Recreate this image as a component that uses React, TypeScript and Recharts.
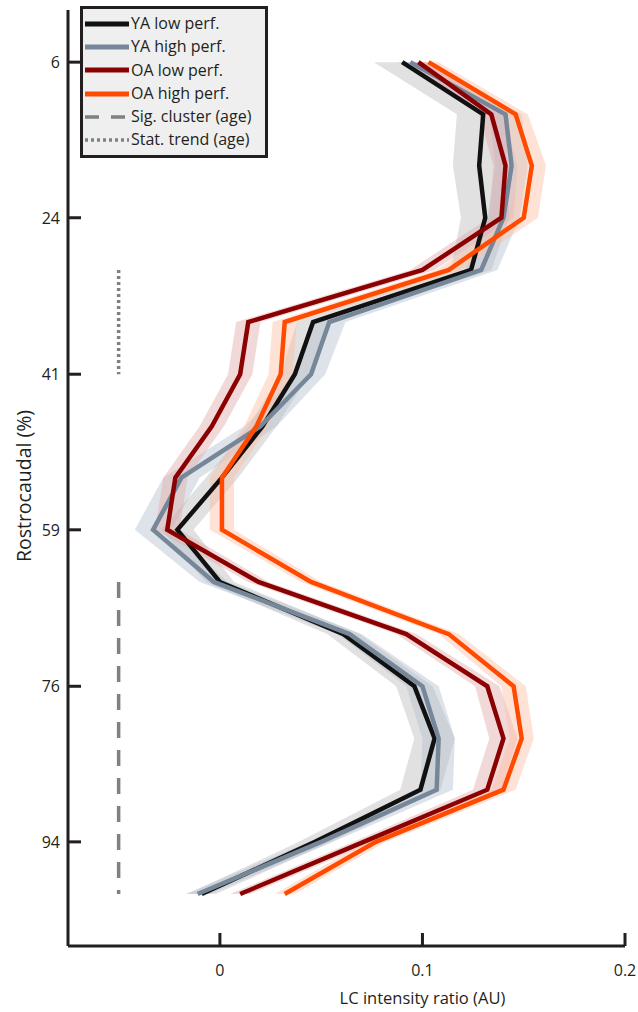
import React from "react";
import { ComposedChart, Line, Area, XAxis, YAxis, Legend, Label } from "recharts";

// rostrocaudal slice positions (%), 17 slices
const positions = [5.9, 11.8, 17.6, 23.5, 29.4, 35.3, 41.2, 47.1, 52.9, 58.8, 64.7, 70.6, 76.5, 82.4, 88.2, 94.1, 100];
const yTicks = [5.9, 23.5, 41.2, 58.8, 76.5, 94.1];
const yTickLabels = ["6", "24", "41", "59", "76", "94"];
const xTicks = [0, 0.1, 0.2];

const yaLow = [0.09, 0.13, 0.128, 0.131, 0.124, 0.046, 0.037, 0.021, 0.001, -0.021, 0, 0.061, 0.096, 0.106, 0.099, 0.047, -0.009];
const yaHigh = [0.094, 0.141, 0.144, 0.14, 0.129, 0.054, 0.045, 0.02, -0.019, -0.033, -0.003, 0.064, 0.1, 0.108, 0.107, 0.05, -0.011];
const oaLow = [0.098, 0.134, 0.141, 0.139, 0.1, 0.014, 0.01, -0.004, -0.022, -0.026, 0.019, 0.092, 0.132, 0.14, 0.132, 0.071, 0.01];
const oaHigh = [0.103, 0.146, 0.154, 0.15, 0.113, 0.032, 0.03, 0.018, 0.001, 0.001, 0.045, 0.113, 0.145, 0.149, 0.14, 0.077, 0.032];

// error band half widths
const yaLowErr = [0.014, 0.013, 0.013, 0.012, 0.01, 0.008, 0.007, 0.007, 0.008, 0.008, 0.007, 0.008, 0.009, 0.01, 0.01, 0.008, 0.007];
const yaHighErr = [0.006, 0.008, 0.008, 0.008, 0.008, 0.008, 0.007, 0.008, 0.009, 0.009, 0.007, 0.006, 0.008, 0.008, 0.008, 0.006, 0.006];
const oaLowErr = [0.005, 0.006, 0.006, 0.006, 0.006, 0.006, 0.006, 0.006, 0.006, 0.006, 0.005, 0.005, 0.006, 0.007, 0.007, 0.005, 0.005];
const oaHighErr = [0.005, 0.006, 0.007, 0.007, 0.006, 0.006, 0.006, 0.006, 0.006, 0.006, 0.005, 0.005, 0.006, 0.006, 0.006, 0.005, 0.005];

// age effect markers
const markerX = -0.05;
const sigClusterRange = [64.7, 100];
const trendRange = [29.4, 41.2];

const FONT = "'Open Sans', sans-serif";
const INK = "#231f20";

const series = [
  { key: "yaLow", name: "YA low perf.", color: "#111111", band: "#bdbdbd", vals: yaLow, err: yaLowErr },
  { key: "yaHigh", name: "YA high perf.", color: "#77879a", band: "#b4c0cc", vals: yaHigh, err: yaHighErr },
  { key: "oaLow", name: "OA low perf.", color: "#8b0000", band: "#e2aaaa", vals: oaLow, err: oaLowErr },
  { key: "oaHigh", name: "OA high perf.", color: "#ff4a00", band: "#ffbfa3", vals: oaHigh, err: oaHighErr },
];

const inRange = (p: number, r: number[]) => p >= r[0] - 0.01 && p <= r[1] + 0.01;

const data = positions.map((pos, i) => {
  const row: any = { pos };
  series.forEach((s) => {
    row[s.key] = s.vals[i];
    row[s.key + "Band"] = [s.vals[i] - s.err[i], s.vals[i] + s.err[i]];
  });
  row.sig = inRange(pos, sigClusterRange) ? markerX : null;
  row.trend = inRange(pos, trendRange) ? markerX : null;
  return row;
});

const YTick = (props: any) => {
  const { x, y, payload } = props;
  const idx = yTicks.indexOf(payload.value);
  return (
    <g>
      <line x1={x + 8} x2={x + 21} y1={y} y2={y} stroke={INK} strokeWidth={3} />
      <text x={x} y={y} dy={6} textAnchor="end" fontSize={16} fontFamily={FONT} fill={INK}>
        {idx >= 0 ? yTickLabels[idx] : payload.value}
      </text>
    </g>
  );
};

const XTick = (props: any) => {
  const { x, y, payload } = props;
  return (
    <g>
      <line x1={x} x2={x} y1={y} y2={y - 13} stroke={INK} strokeWidth={3} />
      <text x={x} y={y + 30} textAnchor="middle" fontSize={16} fontFamily={FONT} fill={INK}>
        {payload.value}
      </text>
    </g>
  );
};

const legendRows = [
  ...series.map((s) => ({ name: s.name, color: s.color, dash: undefined as string | undefined, w: 5 })),
  { name: "Sig. cluster (age)", color: "#808080", dash: "14 12", w: 3.5 },
  { name: "Stat. trend (age)", color: "#808080", dash: "3 3", w: 3.5 },
];

const LegendBox = () => (
  <div
    style={{
      border: `3px solid ${INK}`,
      background: "#efefef",
      padding: "3px 14px 3px 2px",
      fontFamily: FONT,
      fontSize: 16,
      color: INK,
      lineHeight: "23.3px",
    }}
  >
    {legendRows.map((r) => (
      <div key={r.name} style={{ display: "flex", alignItems: "center", whiteSpace: "nowrap" }}>
        <svg width={44} height={10} style={{ marginRight: 2 }}>
          <line x1={0} x2={44} y1={5} y2={5} stroke={r.color} strokeWidth={r.w} strokeDasharray={r.dash} />
        </svg>
        <span>{r.name}</span>
      </div>
    ))}
  </div>
);

const App = () => {
  return (
    <div style={{ position: "absolute", left: 0, top: 0, background: "#fff" }}>
      <ComposedChart
        width={638}
        height={1012}
        data={data}
        layout="vertical"
        margin={{ top: 10, right: 13, bottom: 16, left: 8 }}
      >
        <XAxis
          type="number"
          domain={[-0.075, 0.2]}
          ticks={xTicks}
          height={50}
          axisLine={{ stroke: INK, strokeWidth: 3 }}
          tickLine={false}
          tickSize={0}
          tickMargin={0}
          tick={<XTick />}
          interval={0}
        >
          <Label
            content={(p: any) => {
              const vb = p.viewBox;
              const cx = vb.x + vb.width * (0.175 / 0.275);
              return (
                <text x={cx} y={vb.y + 58} textAnchor="middle" fontSize={16.5} fontFamily={FONT} fill={INK}>
                  LC intensity ratio (AU)
                </text>
              );
            }}
          />
        </XAxis>
        <YAxis
          type="number"
          dataKey="pos"
          domain={[0, 105.88]}
          ticks={yTicks}
          width={60}
          axisLine={{ stroke: INK, strokeWidth: 3 }}
          tickLine={false}
          tickSize={0}
          tickMargin={8}
          tick={<YTick />}
          interval={0}
        >
          <Label
            content={(p: any) => {
              const vb = p.viewBox;
              const cx = vb.x + 15;
              const cy = vb.y + vb.height / 2 + 8;
              return (
                <text
                  x={cx}
                  y={cy}
                  transform={`rotate(-90 ${cx} ${cy})`}
                  textAnchor="middle"
                  dominantBaseline="central"
                  fontSize={19.5}
                  fontFamily={FONT}
                  fill={INK}
                >
                  Rostrocaudal (%)
                </text>
              );
            }}
          />
        </YAxis>
        <Legend
          layout="horizontal"
          verticalAlign="middle"
          align="center"
          content={<LegendBox />}
          wrapperStyle={{ top: 6, left: 80, width: "auto", height: "auto" }}
        />
        {series.map((s) => (
          <Area
            key={s.key + "Band"}
            dataKey={s.key + "Band"}
            type="linear"
            stroke="none"
            fill={s.band}
            fillOpacity={0.45}
            isAnimationActive={false}
            legendType="none"
          />
        ))}
        <Line
          dataKey="trend"
          stroke="#808080"
          strokeWidth={3.5}
          strokeDasharray="3 3"
          dot={false}
          connectNulls={false}
          isAnimationActive={false}
        />
        <Line
          dataKey="sig"
          stroke="#808080"
          strokeWidth={3.5}
          strokeDasharray="16 12"
          dot={false}
          connectNulls={false}
          isAnimationActive={false}
        />
        {series.map((s) => (
          <Line
            key={s.key}
            dataKey={s.key}
            name={s.name}
            type="linear"
            stroke={s.color}
            strokeWidth={4.5}
            dot={false}
            isAnimationActive={false}
          />
        ))}
      </ComposedChart>
    </div>
  );
};

export default App;
